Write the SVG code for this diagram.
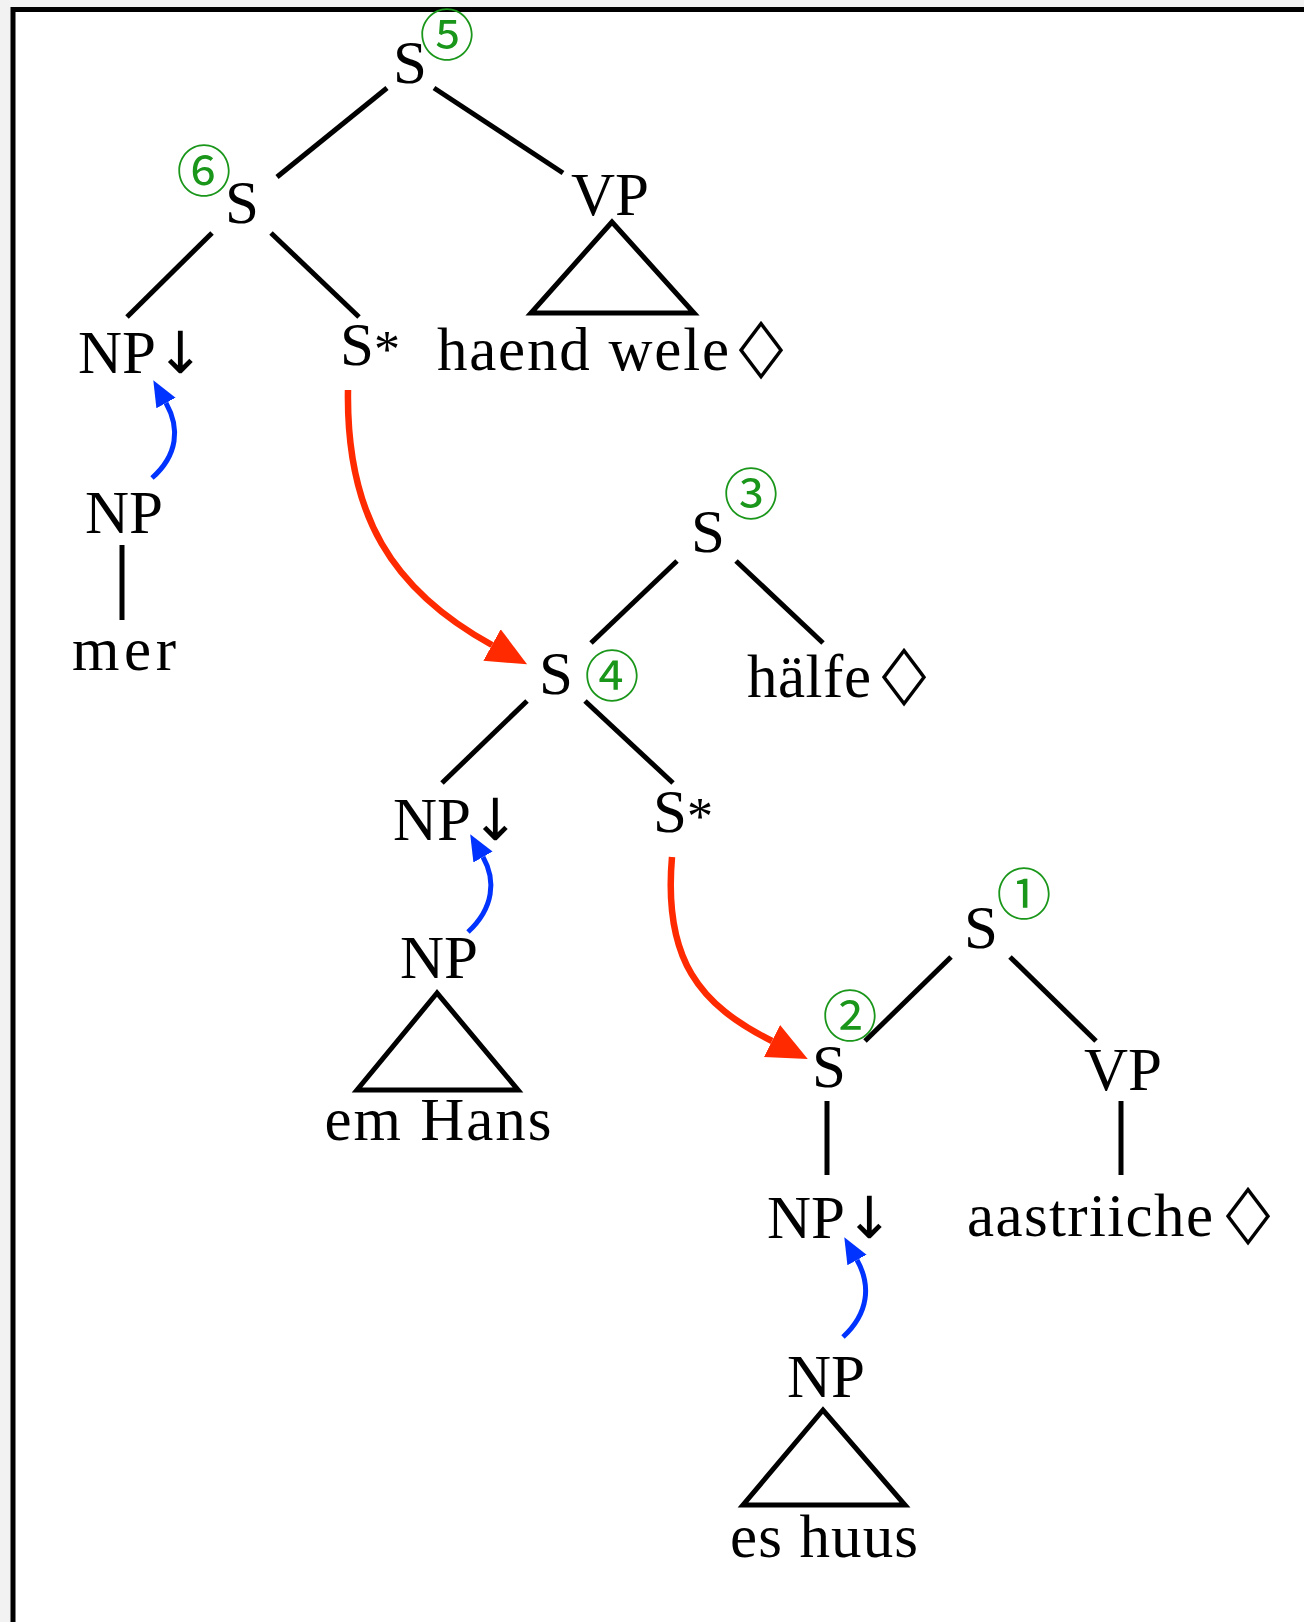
<svg xmlns="http://www.w3.org/2000/svg" width="1304" height="1622" viewBox="0 0 1304 1622">
<style>
.t{font-family:"Liberation Serif","Times New Roman",serif;font-size:61px;fill:#000}
.m{text-anchor:middle}
.ar{font-family:"DejaVu Sans",sans-serif;font-size:58px}
.st{font-size:52px}
.c{font-family:"Noto Sans CJK JP","DejaVu Sans",sans-serif;font-size:55px;fill:#1a961a;text-anchor:middle}
.d{font-family:"DejaVu Sans",sans-serif;font-size:58px;fill:#000;text-anchor:middle}
.e{stroke:#000;stroke-width:5;fill:none}
.tri{stroke:#000;stroke-width:5;fill:none;stroke-linejoin:miter}
.red{stroke:#ff2a00;stroke-width:6.5;fill:none}
.blue{stroke:#0033ff;stroke-width:5;fill:none}
</style>
<defs>
<marker id="ar" markerUnits="userSpaceOnUse" markerWidth="44" markerHeight="38" refX="0" refY="18" orient="auto" viewBox="0 0 44 36">
<path d="M0,0 L40,18 L0,36 z" fill="#ff2a00"/>
</marker>
<marker id="ab" markerUnits="userSpaceOnUse" markerWidth="28" markerHeight="24" refX="0" refY="11" orient="auto" viewBox="0 0 28 22">
<path d="M0,0 L26,11 L0,22 z" fill="#0033ff"/>
</marker>
</defs>
<rect x="0" y="0" width="1304" height="1622" fill="#f2f2f2"/>
<rect id="frame" x="13" y="9.5" width="1400" height="1700" fill="#fff" stroke="#000" stroke-width="5"/>

<g id="edges">
<line class="e" x1="387" y1="88" x2="277" y2="177"/>
<line class="e" x1="434" y1="88" x2="563" y2="173"/>
<line class="e" x1="212" y1="233" x2="127" y2="317"/>
<line class="e" x1="271" y1="233" x2="359" y2="317"/>
<line class="e" x1="122" y1="545" x2="122" y2="620"/>
<line class="e" x1="677" y1="561" x2="591" y2="643"/>
<line class="e" x1="736" y1="561" x2="823" y2="643"/>
<line class="e" x1="527" y1="701" x2="442" y2="783"/>
<line class="e" x1="585" y1="701" x2="673" y2="783"/>
<line class="e" x1="951" y1="957" x2="865" y2="1041"/>
<line class="e" x1="1010" y1="957" x2="1096" y2="1041"/>
<line class="e" x1="827" y1="1101" x2="827" y2="1175"/>
<line class="e" x1="1121" y1="1101" x2="1121" y2="1175"/>
<polygon class="tri" points="612,222 531,313 694,313"/>
<polygon class="tri" points="437,993 357,1090 518,1090"/>
<polygon class="tri" points="823,1410 743,1505 905,1505"/>
<path class="red" d="M348,390 C346,515 392,590 492,645" marker-end="url(#ar)"/>
<path class="red" d="M672,857 C663,960 700,1005 772,1041" marker-end="url(#ar)"/>
<path class="blue" d="M152,478 C178,455 180,428 166,403" marker-end="url(#ab)"/>
<path class="blue" d="M468,932 C494,908 496,880 483,857" marker-end="url(#ab)"/>
<path class="blue" d="M843,1337 C869,1313 871,1285 857,1260" marker-end="url(#ab)"/>
</g>

<g id="n-s5"><text class="t m" x="410" y="83">S</text><text class="c" x="447" y="55">⑤</text></g>
<g id="n-s6"><text class="t m" x="242" y="223">S</text><text class="c" x="204" y="191">⑥</text></g>
<g id="n-vp1"><text class="t m" x="610" y="215">VP</text></g>
<g id="n-haend"><text class="t" x="437" y="370" textLength="292" lengthAdjust="spacing">haend wele</text><text class="d" transform="translate(761,370) scale(1,1.32)" x="0" y="0">◇</text></g>
<g id="n-np1"><text class="t" x="78" y="373">NP<tspan class="ar">↓</tspan></text></g>
<g id="n-sstar1"><text class="t" x="340" y="365">S<tspan class="st" dy="2">*</tspan></text></g>
<g id="n-np-mer"><text class="t m" x="124" y="533">NP</text></g>
<g id="n-mer"><text class="t m" x="124" y="670" textLength="104" lengthAdjust="spacing">mer</text></g>
<g id="n-s3"><text class="t m" x="708" y="552">S</text><text class="c" x="751" y="514">③</text></g>
<g id="n-haelfe"><text class="t" x="747" y="697" textLength="124" lengthAdjust="spacing">hälfe</text><text class="d" transform="translate(904,697) scale(1,1.32)" x="0" y="0">◇</text></g>
<g id="n-s4"><text class="t m" x="556" y="694">S</text><text class="c" x="612" y="696">④</text></g>
<g id="n-np2"><text class="t" x="393" y="840">NP<tspan class="ar">↓</tspan></text></g>
<g id="n-sstar2"><text class="t" x="653" y="832">S<tspan class="st" dy="2">*</tspan></text></g>
<g id="n-np-hans"><text class="t m" x="439" y="978">NP</text></g>
<g id="n-hans"><text class="t m" x="438" y="1140" textLength="227" lengthAdjust="spacing">em Hans</text></g>
<g id="n-s1"><text class="t m" x="981" y="948">S</text><text class="c" x="1024" y="914">①</text></g>
<g id="n-s2"><text class="t m" x="829" y="1087">S</text><text class="c" x="850" y="1036">②</text></g>
<g id="n-vp2"><text class="t m" x="1123" y="1090">VP</text></g>
<g id="n-np3"><text class="t" x="767" y="1238">NP<tspan class="ar">↓</tspan></text></g>
<g id="n-aastr"><text class="t" x="967" y="1236" textLength="246" lengthAdjust="spacing">aastriiche</text><text class="d" transform="translate(1248,1236) scale(1,1.32)" x="0" y="0">◇</text></g>
<g id="n-np-huus"><text class="t m" x="826" y="1397">NP</text></g>
<g id="n-huus"><text class="t m" x="824" y="1557" textLength="188" lengthAdjust="spacing">es huus</text></g>
</svg>
